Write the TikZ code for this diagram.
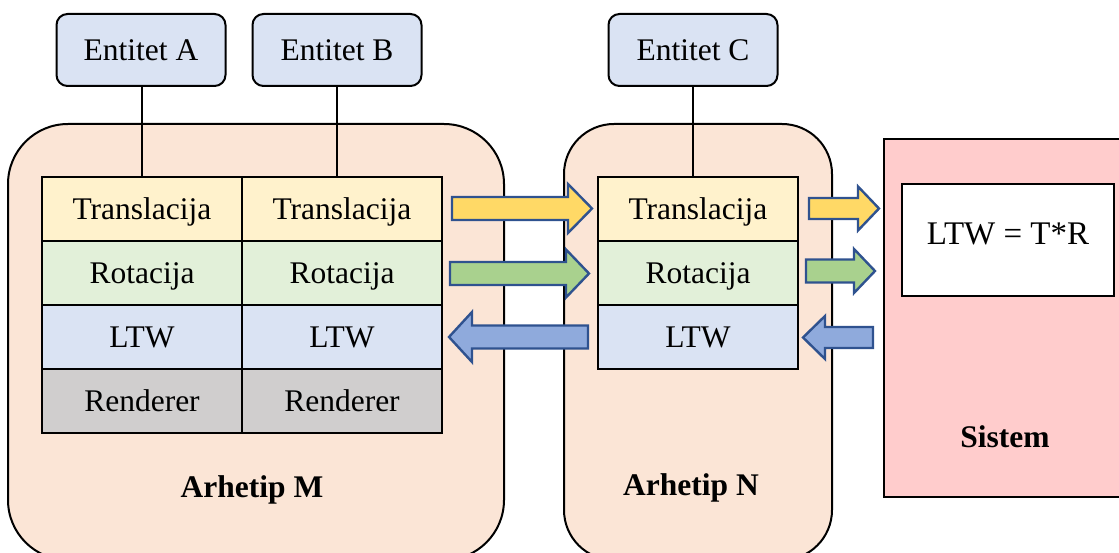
\documentclass[tikz,border=0pt]{standalone}
\usepackage{fontspec}
\setmainfont{Liberation Serif}
\definecolor{entblue}{HTML}{DAE3F3}
\definecolor{transY}{HTML}{FFF2CC}
\definecolor{rotG}{HTML}{E2F0D9}
\definecolor{ltwB}{HTML}{DAE3F3}
\definecolor{rendG}{HTML}{D0CECE}
\definecolor{archF}{HTML}{FBE5D6}
\definecolor{sysF}{HTML}{FFCCCC}
\definecolor{arrLine}{HTML}{2F528F}
\definecolor{arrY}{HTML}{FFD966}
\definecolor{arrG}{HTML}{A9D18E}
\definecolor{arrB}{HTML}{8FAADC}
\newcommand\blockarr[7]{%
  \draw[arrstyle, fill=#7] (#1,#4-#5) -- (#2,#4-#5) -- (#2,#4-#6) -- (#3,#4) -- (#2,#4+#6) -- (#2,#4+#5) -- (#1,#4+#5) -- cycle;}
\begin{document}
\begin{tikzpicture}[x=1pt,y=-1pt,
  every node/.style={font=\fontsize{31.5}{36}\selectfont, text height=21pt, text depth=0pt},
  entity/.style={draw, line width=2pt, rounded corners=11pt, fill=entblue, minimum width=169pt, minimum height=72pt, inner sep=0pt},
  cell/.style={draw, line width=2pt, minimum width=200pt, minimum height=64pt, inner sep=0pt},
  container/.style={draw, line width=2pt, fill=archF, inner sep=0pt},
  lbl/.style={font=\fontsize{31.5}{36}\selectfont\bfseries},
  link/.style={line width=1.2pt},
  arrstyle/.style={draw=arrLine, line width=2.4pt, line join=miter}
]
\useasboundingbox (0,0) rectangle (1119,553);
% containers
\node[container, rounded corners=60pt, minimum width=496pt, minimum height=436pt] (M) at (256,342) {};
\node[container, rounded corners=50pt, minimum width=268pt, minimum height=436pt] (N) at (698,342) {};
\node[container, fill=sysF, minimum width=242pt, minimum height=358pt] (S) at (1005,318) {};
% entities
\node[entity] (A) at (141,50) {Entitet A};
\node[entity] (B) at (337,50) {Entitet B};
\node[entity] (C) at (693,50) {Entitet C};
% table M col 1
\node[cell, fill=transY] (tA) at (142,209) {Translacija};
\node[cell, fill=rotG] (rA) at (142,273) {Rotacija};
\node[cell, fill=ltwB] (lA) at (142,337) {LTW};
\node[cell, fill=rendG] (dA) at (142,401) {Renderer};
% table M col 2
\node[cell, fill=transY] (tB) at (342,209) {Translacija};
\node[cell, fill=rotG] (rB) at (342,273) {Rotacija};
\node[cell, fill=ltwB] (lB) at (342,337) {LTW};
\node[cell, fill=rendG] (dB) at (342,401) {Renderer};
% table N
\node[cell, fill=transY] (tC) at (698,209) {Translacija};
\node[cell, fill=rotG] (rC) at (698,273) {Rotacija};
\node[cell, fill=ltwB] (lC) at (698,337) {LTW};
% labels
\node[lbl] (Mlbl) at (252,487) {Arhetip M};
\node[lbl] (Nlbl) at (691,485) {Arhetip N};
\node[lbl] (Slbl) at (1005,437) {Sistem};
% LTW formula box
\node[draw, line width=2pt, fill=white, minimum width=212pt, minimum height=112pt, text depth=11pt, font=\fontsize{33}{38}\selectfont] (F) at (1008,240) {LTW = T*R};
% links
\draw[link] (tA.north |- A.south) -- (tA.north);
\draw[link] (B.south) -- (B.south |- tB.north);
\draw[link] (C.south) -- (C.south |- tC.north);
% block arrows
\blockarr{452}{568}{592}{208.5}{11.5}{24.5}{arrY}
\blockarr{450}{566}{589}{273.5}{11.5}{24}{arrG}
\blockarr{588}{472}{449}{337}{11.5}{25}{arrB}
\blockarr{809}{858}{879}{208.5}{10.5}{22}{arrY}
\blockarr{806}{854}{875}{271}{11.5}{22}{arrG}
\blockarr{873}{825}{803}{337.5}{10.5}{21.5}{arrB}
\end{tikzpicture}
\end{document}
